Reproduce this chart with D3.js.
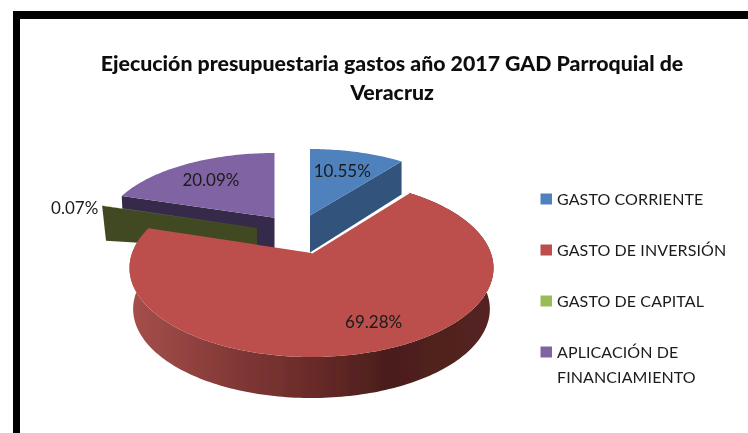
<!DOCTYPE html>
<html><head><meta charset="utf-8">
<script src="https://cdn.jsdelivr.net/npm/d3@7"></script>
<style>html,body{margin:0;padding:0;background:#fff}svg{display:block}</style></head>
<body><svg id="c" width="748" height="433"></svg>
<script>
const categories = ["GASTO CORRIENTE","GASTO DE INVERSIÓN","GASTO DE CAPITAL","APLICACIÓN DE FINANCIAMIENTO"];
const legendLines = [["GASTO CORRIENTE"],["GASTO DE INVERSIÓN"],["GASTO DE CAPITAL"],["APLICACIÓN DE","FINANCIAMIENTO"]];
const values = [10.55,69.28,0.07,20.09];
const topColors = ["#4f81bd","#bc4f4c","#9bbb59","#8064a2"];
const sideColors = ["#31537c","#a04d4a","#414a20","#36294a"];
const titleLines = ["Ejecución presupuestaria gastos año 2017 GAD Parroquial de","Veracruz"];

const W=748,H=433,FONT="Lato, 'Open Sans', sans-serif";
const svg=d3.select("#c");
const defs=svg.append("defs");
defs.append("filter").attr("id","soft").attr("x","-5%").attr("y","-5%").attr("width","110%").attr("height","110%")
  .append("feGaussianBlur").attr("stdDeviation",0.5);
const grad=defs.append("linearGradient").attr("id","redWall").attr("gradientUnits","userSpaceOnUse")
  .attr("x1",130).attr("x2",493).attr("y1",0).attr("y2",0);
[[0,"#a64f4c"],[.18,"#8f413e"],[.35,"#7a3432"],[.5,"#6a2b29"],[.7,"#4b1e1c"],[1,"#552321"]]
  .forEach(([o,c])=>grad.append("stop").attr("offset",o).attr("stop-color",c));

const root=svg.append("g").attr("filter","url(#soft)");
root.append("rect").attr("width",W).attr("height",H).attr("fill","#fff");
// frame (open on right and bottom, as cropped in the reference)
root.append("rect").attr("x",13).attr("y",11).attr("width",W-13).attr("height",8).attr("fill","#000");
root.append("rect").attr("x",13).attr("y",11).attr("width",7).attr("height",H-11).attr("fill","#000");

const arcs=d3.pie().sort(null).value(d=>d).startAngle(0).endAngle(2*Math.PI)(values);
// a tilted disc under perspective: the pie's centre sits above the ellipse centre
const K=-0.169, S=Math.sqrt(1-K*K);
const discs=[
  {cx:310,cy:229,rx:171,ry:80,depth:[37,33],shrink:1},
  {cx:311.5,cy:268,rx:182,ry:89,depth:[41,41],shrink:.98},
  {cx:257,cy:241.5,rx:173,ry:80,depth:[22,35],shrink:.975},
  {cx:274.5,cy:231,rx:171,ry:78,depth:[32,32],shrink:.99}
];
function project(d,a,f){
  const u=Math.sin(a)*f, v=-Math.cos(a)*f, den=1+K*v;
  return [d.cx+d.rx*u*S/den, d.cy+d.ry*(v+K)/den];
}
const line=d3.line();
const sweep=(a0,a1)=>{const n=Math.max(2,Math.ceil(Math.abs(a1-a0)/0.02));return d3.range(n+1).map(i=>a0+(a1-a0)*i/n);};

function drawSlice(i){
  const p=arcs[i], d=discs[i];
  const apex=project(d,0,0), rim=sweep(p.startAngle,p.endAngle).map(a=>project(d,a,1));
  const drop=(pt,dep)=>[d.cx+(pt[0]-d.cx)*d.shrink,pt[1]+dep];
  if(i===1){
    root.append("path").attr("d",line(rim.concat(rim.map(q=>drop(q,d.depth[1])).reverse()))+"Z").attr("fill","url(#redWall)");
  }else{
    // the slice's cut face that looks toward the viewer
    const edge=i===0?rim[rim.length-1]:rim[0];
    root.append("path").attr("d",line([apex,edge,drop(edge,d.depth[1]),[apex[0],apex[1]+d.depth[0]]])+"Z").attr("fill",sideColors[i]);
  }
  root.append("path").attr("d",line([apex,...rim])+"Z").attr("fill",topColors[i]);
  if(i===1){
    // pale seam between the large slice and the blue cut face
    root.append("path").attr("d",line([apex,rim[0]])).attr("fill","none").attr("stroke","#fff").attr("stroke-width",1.6);
  }
}
[3,2,0,1].forEach(drawSlice);

// data labels
const fmt=v=>d3.format(".2f")(v)+"%";
const labelSpec=[{f:.65,dx:0,dy:-1,anchor:"middle"},{f:.7,dx:20,dy:4,anchor:"middle"},{f:1,dx:-4,dy:2,anchor:"end"},{f:.7,dx:0,dy:1,anchor:"middle"}];
values.forEach((v,i)=>{
  const s=labelSpec[i],[x,y]=project(discs[i],(arcs[i].startAngle+arcs[i].endAngle)/2,s.f);
  root.append("text").attr("x",x+s.dx).attr("y",y+s.dy).attr("dy","0.35em").attr("text-anchor",s.anchor)
    .attr("font-family",FONT).attr("font-size",17).attr("fill","#1a1a1a").text(fmt(v));
});

// title
titleLines.forEach((t,i)=>root.append("text").attr("x",392).attr("y",71+i*29).attr("text-anchor","middle")
  .attr("font-family",FONT).attr("font-weight",900).attr("font-size",21.3).attr("fill","#111").text(t));

// legend
const ly=d3.scalePoint().domain(categories).range([199,352]);
categories.forEach((c,i)=>{
  const y=ly(c);
  root.append("rect").attr("x",540.5).attr("y",y-5.5).attr("width",11.5).attr("height",11).attr("fill",topColors[i]);
  legendLines[i].forEach((t,j)=>root.append("text").attr("x",557).attr("y",y+6+j*25)
    .attr("font-family",FONT).attr("font-size",16).attr("letter-spacing",.1).attr("fill","#1a1a1a").text(t));
});
</script></body></html>
